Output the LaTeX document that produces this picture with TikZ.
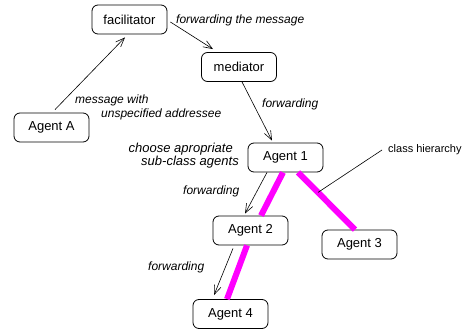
\documentclass[tikz,border=0pt]{standalone}
\usepackage{fontspec}
\setmainfont{Liberation Sans}
\usetikzlibrary{arrows.meta}
\definecolor{hiermagenta}{RGB}{255,0,255}
\begin{document}
\begin{tikzpicture}[
        x=1pt, y=-1pt,
        box/.style={rectangle, draw, line width=0.8pt, minimum width=75pt, minimum height=29pt, rounded corners=6pt, font=\fontsize{13}{15}\selectfont},
        arrow/.style={-{Straight Barb[length=9pt, width=7pt]}, line width=0.6pt},
        lbl/.style={font=\fontsize{12}{13.5}\selectfont\itshape, inner sep=0pt},
        hier/.style={hiermagenta, line width=6pt}
    ]
        \useasboundingbox (0,0) rectangle (464,329);

        % Boxes
        \node[box] (facilitator) at (129.5,19.5) {facilitator};
        \node[box] (mediator) at (239,67) {mediator};
        \node[box] (agentA) at (51.5,127.5) {Agent A};
        \node[box] (agent1) at (285.5,157.5) {Agent 1};
        \node[box] (agent2) at (250.5,230.5) {Agent 2};
        \node[box] (agent3) at (359.5,244.5) {Agent 3};
        \node[box] (agent4) at (230.5,314) {Agent 4};

        % Class hierarchy
        \draw[hier] ([xshift=-2.5pt]agent1.south) -- ([xshift=10.5pt]agent2.north);
        \draw[hier] ([xshift=-3.5pt]agent2.south) -- ([xshift=-3.5pt]agent4.north);
        \draw[hier] ([xshift=12.5pt]agent1.south) -- coordinate[pos=0.35] (hierpt) ([xshift=-4.5pt]agent3.north);
        \node[font=\fontsize{11}{13}\selectfont, anchor=west, inner sep=0pt] (hierlbl) at (388,150) {class hierarchy};
        \draw[line width=0.6pt] (hierpt) -- ([xshift=-6pt]hierlbl.west);

        % Messages
        \draw[arrow] ([shift={(3.5pt,3pt)}]agentA.north) -- ([shift={(-4.5pt,-3pt)}]facilitator.south);
        \draw[arrow] ([shift={(3pt,-2.5pt)}]facilitator.east) -- ([shift={(-26pt,3pt)}]mediator.north);
        \draw[arrow] ([xshift=3pt]mediator.south) -- ([shift={(-13.5pt,2pt)}]agent1.north);
        \draw[arrow] ([xshift=-18.5pt]agent1.south) -- ([shift={(-5.5pt,2pt)}]agent2.north);
        \draw[arrow] ([shift={(-17.5pt,-3pt)}]agent2.south) -- ([shift={(-16.5pt,4pt)}]agent4.north);

        % Labels
        \node[lbl, anchor=west] (lblfwd) at (176,20) {forwarding the message};
        \node[lbl, anchor=west, align=left] (lblmsg) at (75,107.5) {message with\\\hspace*{26pt}unspecified addressee};
        \node[lbl, anchor=west] (lblfwd1) at (262,104) {forwarding};
        \node[lbl, font=\fontsize{13}{13.5}\selectfont\itshape, anchor=east, align=right] (lblchoose) at (239,155.5) {choose apropriate\hspace*{6pt}\\sub-class agents};
        \node[lbl, anchor=west] (lblfwd2) at (183,191) {forwarding};
        \node[lbl, anchor=west] (lblfwd3) at (148,267) {forwarding};

    \end{tikzpicture}
\end{document}
